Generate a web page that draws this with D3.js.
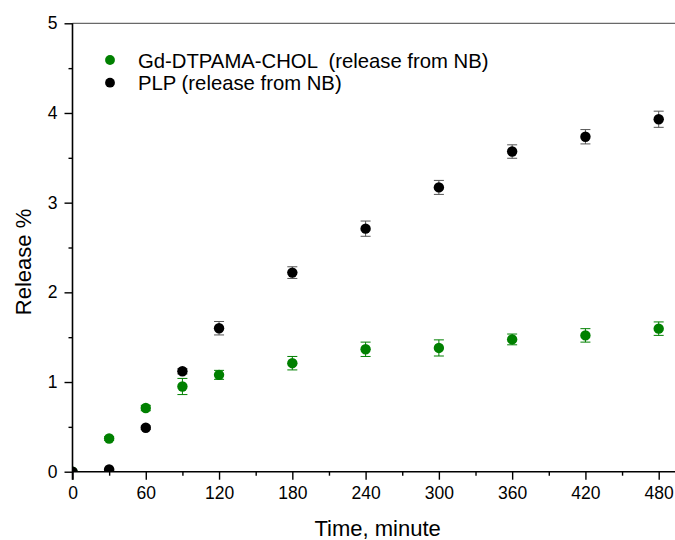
<!DOCTYPE html>
<html>
<head>
<meta charset="utf-8">
<script src="https://cdn.jsdelivr.net/npm/d3@7"></script>
<style>
body { margin: 0; background: #fff; }
svg { font-family: Arial, "Liberation Sans", sans-serif; }
</style>
</head>
<body>
<div id="chart"></div>
<script>
// data
var times = [0, 30, 60, 90, 120, 180, 240, 300, 360, 420, 480];
var gdValues = [0, 0.37, 0.71, 0.95, 1.08, 1.21, 1.365, 1.38, 1.475, 1.52, 1.595];
var gdErrors = [0, 0.02, 0.03, 0.09, 0.05, 0.075, 0.08, 0.09, 0.06, 0.075, 0.075];
var plpValues = [0, 0.025, 0.49, 1.12, 1.60, 2.22, 2.71, 3.17, 3.57, 3.735, 3.93];
var plpErrors = [0, 0.01, 0.02, 0.03, 0.075, 0.065, 0.085, 0.078, 0.075, 0.08, 0.09];
var xMajor = [0, 60, 120, 180, 240, 300, 360, 420, 480];
var xMinor = [30, 90, 150, 210, 270, 330, 390, 450];
var yMajor = [0, 1, 2, 3, 4, 5];
var yMinor = [0.5, 1.5, 2.5, 3.5, 4.5];
var seriesNames = ["Gd-DTPAMA-CHOL  (release from NB)", "PLP (release from NB)"];

var W = 675, H = 540;
var mLeft = 72.5, mRight = 658.7, mTop = 23.3, mBottom = 471.7;

var svg = d3.select("#chart").append("svg")
  .attr("width", W).attr("height", H);

var x = d3.scaleLinear().domain([0, 480]).range([mLeft, mRight]);
var y = d3.scaleLinear().domain([0, 5]).range([mBottom, mTop]);

svg.append("defs").append("clipPath").attr("id", "plotclip")
  .append("rect")
  .attr("x", mLeft).attr("y", mTop)
  .attr("width", W - mLeft).attr("height", mBottom - mTop);

// top frame line
svg.append("line")
  .attr("x1", mLeft).attr("x2", W)
  .attr("y1", mTop).attr("y2", mTop)
  .attr("stroke", "#444").attr("stroke-width", 1);

var series = [
  {vals: gdValues, errs: gdErrors, color: "#008000", errColor: "#008000"},
  {vals: plpValues, errs: plpErrors, color: "#000", errColor: "#555"}
];

var plot = svg.append("g").attr("clip-path", "url(#plotclip)");

series.forEach(function(s){
  var data = times.map(function(t, i){ return {t: t, v: s.vals[i], e: s.errs[i]}; });
  var g = plot.append("g");
  var eb = g.selectAll(".eb").data(data.filter(function(d){ return d.e > 0; }))
    .enter().append("g");
  eb.append("line")
    .attr("x1", function(d){ return x(d.t); })
    .attr("x2", function(d){ return x(d.t); })
    .attr("y1", function(d){ return y(d.v - d.e); })
    .attr("y2", function(d){ return y(d.v + d.e); })
    .attr("stroke", s.errColor).attr("stroke-width", 1);
  [-1, 1].forEach(function(sign){
    eb.append("line")
      .attr("x1", function(d){ return x(d.t) - 5; })
      .attr("x2", function(d){ return x(d.t) + 5; })
      .attr("y1", function(d){ return y(d.v + sign * d.e); })
      .attr("y2", function(d){ return y(d.v + sign * d.e); })
      .attr("stroke", s.errColor).attr("stroke-width", 1);
  });
  g.selectAll("circle").data(data).enter().append("circle")
    .attr("cx", function(d){ return x(d.t); })
    .attr("cy", function(d){ return y(d.v); })
    .attr("r", 5.2)
    .attr("fill", s.color);
});

// axes
function styleAxis(g){
  g.attr("font-size", null).attr("font-family", null);
  g.select(".domain").attr("stroke", "#000").attr("stroke-width", 1.6);
  g.selectAll(".tick line").attr("stroke", "#000").attr("stroke-width", 1.4);
  g.selectAll("text").attr("fill", "#000").style("font-size", "17.5px");
}

var xAxisG = svg.append("g").attr("transform", "translate(0," + mBottom + ")");
xAxisG.call(d3.axisBottom(x).tickValues(xMajor).tickSize(8).tickPadding(7)
  .tickFormat(d3.format("d")));
xAxisG.select(".domain").attr("d", "M" + mLeft + ",0H" + W);
styleAxis(xAxisG);
var xMinorG = svg.append("g").attr("transform", "translate(0," + mBottom + ")");
xMinorG.call(d3.axisBottom(x).tickValues(xMinor).tickSize(4).tickFormat(""));
xMinorG.select(".domain").remove();
styleAxis(xMinorG);

var yAxisG = svg.append("g").attr("transform", "translate(" + mLeft + ",0)");
yAxisG.call(d3.axisLeft(y).tickValues(yMajor).tickSize(8).tickPadding(7)
  .tickFormat(d3.format("d")));
yAxisG.select(".domain").attr("d", "M0," + (mBottom + 8) + "V" + mTop);
styleAxis(yAxisG);
var yMinorG = svg.append("g").attr("transform", "translate(" + mLeft + ",0)");
yMinorG.call(d3.axisLeft(y).tickValues(yMinor).tickSize(4).tickFormat(""));
yMinorG.select(".domain").remove();
styleAxis(yMinorG);

// axis titles
svg.append("text")
  .text("Time, minute")
  .attr("x", (mLeft + mRight) / 2 + 12)
  .attr("y", 536)
  .attr("text-anchor", "middle")
  .style("font-size", "22px");

svg.append("text")
  .text("Release %")
  .attr("transform", "translate(31,262) rotate(-90)")
  .attr("text-anchor", "middle")
  .style("font-size", "22px");

// legend
var legend = svg.append("g");
series.forEach(function(s, i){
  var ly = 60 + i * 22.7;
  legend.append("circle")
    .attr("cx", 110).attr("cy", ly).attr("r", 4.9)
    .attr("fill", s.color);
  legend.append("text")
    .text(seriesNames[i])
    .attr("x", 138).attr("y", ly + 7.5)
    .style("white-space", "pre")
    .style("font-size", "20.3px");
});
</script>
</body>
</html>
